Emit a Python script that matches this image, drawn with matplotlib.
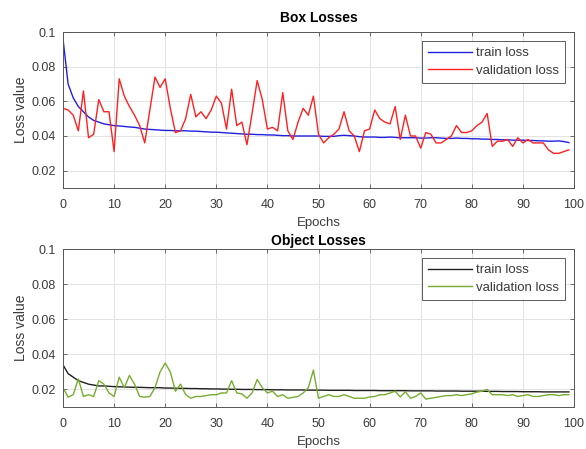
import numpy as np
import matplotlib
matplotlib.use("Agg")
import matplotlib.pyplot as plt

plt.rcParams['font.family'] = ['Liberation Sans', 'DejaVu Sans']

epochs = list(range(100))

box_train = [0.096, 0.070, 0.062, 0.057, 0.054, 0.051, 0.049, 0.048, 0.047, 0.0465,
             0.046, 0.0458, 0.0455, 0.0452, 0.045, 0.0445, 0.044, 0.0438, 0.0436, 0.0434,
             0.0432, 0.0432, 0.043, 0.043, 0.043, 0.0428, 0.0428, 0.0426, 0.0424, 0.0422,
             0.0422, 0.042, 0.0418, 0.0416, 0.0414, 0.0412, 0.041, 0.041, 0.0408, 0.0408,
             0.0406, 0.0406, 0.0404, 0.0402, 0.0402, 0.040, 0.040, 0.040, 0.040, 0.040,
             0.040, 0.0398, 0.0398, 0.0398, 0.0402, 0.0404, 0.0402, 0.040, 0.0396, 0.0394,
             0.0394, 0.0394, 0.0392, 0.0392, 0.0394, 0.0392, 0.039, 0.039, 0.039, 0.039,
             0.0388, 0.0388, 0.039, 0.039, 0.0388, 0.0386, 0.0386, 0.0388, 0.0386, 0.0386,
             0.0384, 0.0384, 0.0382, 0.0382, 0.038, 0.038, 0.0378, 0.0378, 0.0376, 0.0376,
             0.0376, 0.0374, 0.0374, 0.0372, 0.0372, 0.037, 0.037, 0.0372, 0.0368, 0.0362]

box_val = [0.056, 0.055, 0.052, 0.043, 0.066, 0.039, 0.041, 0.061, 0.054, 0.054,
           0.031, 0.073, 0.063, 0.057, 0.052, 0.046, 0.036, 0.055, 0.074, 0.068,
           0.073, 0.056, 0.042, 0.043, 0.050, 0.064, 0.051, 0.054, 0.050, 0.055,
           0.063, 0.059, 0.044, 0.067, 0.046, 0.048, 0.035, 0.053, 0.072, 0.061,
           0.044, 0.045, 0.043, 0.065, 0.043, 0.038, 0.048, 0.056, 0.052, 0.063,
           0.041, 0.036, 0.039, 0.041, 0.044, 0.054, 0.043, 0.040, 0.031, 0.043,
           0.044, 0.055, 0.050, 0.048, 0.047, 0.057, 0.038, 0.052, 0.040, 0.040,
           0.033, 0.042, 0.041, 0.036, 0.036, 0.038, 0.040, 0.046, 0.042, 0.042,
           0.043, 0.046, 0.048, 0.053, 0.034, 0.037, 0.037, 0.038, 0.034, 0.039,
           0.036, 0.038, 0.036, 0.036, 0.036, 0.032, 0.030, 0.030, 0.031, 0.032]

obj_train = [0.034, 0.029, 0.027, 0.025, 0.024, 0.023, 0.0225, 0.022, 0.022, 0.0218,
             0.0216, 0.0215, 0.0214, 0.0213, 0.0212, 0.0212, 0.0211, 0.021, 0.021, 0.021,
             0.0208, 0.0208, 0.0207, 0.0206, 0.0206, 0.0205, 0.0205, 0.0204, 0.0204, 0.0203,
             0.0203, 0.0202, 0.0202, 0.0201, 0.0201, 0.0200, 0.0200, 0.0200, 0.0199, 0.0199,
             0.0199, 0.0198, 0.0198, 0.0198, 0.0197, 0.0197, 0.0197, 0.0197, 0.0196, 0.0196,
             0.0196, 0.0196, 0.0195, 0.0195, 0.0195, 0.0195, 0.0195, 0.0194, 0.0194, 0.0194,
             0.0194, 0.0194, 0.0193, 0.0193, 0.0193, 0.0193, 0.0193, 0.0193, 0.0192, 0.0192,
             0.0192, 0.0192, 0.0192, 0.0191, 0.0191, 0.0191, 0.0191, 0.0191, 0.019, 0.019,
             0.019, 0.019, 0.019, 0.0189, 0.0189, 0.0189, 0.0188, 0.0188, 0.0188, 0.0188,
             0.0187, 0.0187, 0.0187, 0.0187, 0.0186, 0.0186, 0.0186, 0.0186, 0.0186, 0.0186]

obj_val = [0.021, 0.0156, 0.017, 0.026, 0.016, 0.017, 0.016, 0.025, 0.023, 0.018,
           0.016, 0.027, 0.021, 0.028, 0.023, 0.016, 0.0156, 0.016, 0.021, 0.030,
           0.035, 0.030, 0.019, 0.023, 0.017, 0.015, 0.016, 0.016, 0.0165, 0.017,
           0.017, 0.018, 0.018, 0.025, 0.018, 0.0175, 0.015, 0.018, 0.0257, 0.021,
           0.018, 0.019, 0.016, 0.017, 0.015, 0.0155, 0.016, 0.018, 0.021, 0.031,
           0.015, 0.016, 0.017, 0.016, 0.016, 0.017, 0.016, 0.015, 0.015, 0.015,
           0.0157, 0.016, 0.017, 0.017, 0.018, 0.019, 0.0157, 0.0187, 0.015, 0.016,
           0.018, 0.0145, 0.015, 0.0155, 0.016, 0.0165, 0.0165, 0.017, 0.0165, 0.017,
           0.0175, 0.0185, 0.019, 0.020, 0.017, 0.017, 0.017, 0.0165, 0.017, 0.016,
           0.0165, 0.017, 0.016, 0.016, 0.0165, 0.017, 0.017, 0.0165, 0.017, 0.017]

yticks = [0.02, 0.04, 0.06, 0.08, 0.1]
yticklabels = ['0.02', '0.04', '0.06', '0.08', '0.1']
xticks = list(range(0, 101, 10))

fig = plt.figure(figsize=(5.86, 4.49), dpi=100)
W, H = 586, 449

def make_ax(top, bottom):
    return fig.add_axes([63 / W, 1 - bottom / H, (574 - 63) / W, (bottom - top) / H])

ax1 = make_ax(32, 188)
ax2 = make_ax(249, 407)

panels = [
    (ax1, 'Box Losses', box_train, box_val, '#2020e0', '#ff2020', 7),
    (ax2, 'Object Losses', obj_train, obj_val, '#202020', '#77ac30', 3),
]

gray = '#3a3a3a'
for ax, title, tr, va, c1, c2, tpad in panels:
    ax.plot(epochs, tr, color=c1, lw=1.0, label='train loss')
    ax.plot(epochs, va, color=c2, lw=1.0, label='validation loss')
    ax.set_xlim(0, 100)
    ax.set_ylim(0.01, 0.1)
    ax.set_xticks(xticks)
    ax.set_yticks(yticks)
    ax.set_yticklabels(yticklabels)
    ax.grid(True, color='#e3e3e3', lw=0.7)
    ax.set_axisbelow(True)
    ax.tick_params(direction='in', length=3, width=0.6, colors='#555555',
                   labelcolor=gray, labelsize=9, top=True, right=True, pad=5)
    ax.tick_params(axis='x', pad=8)
    for s in ax.spines.values():
        s.set_color('#555555')
        s.set_linewidth(0.7)
    ax.set_xlabel('Epochs', fontsize=9.5, color=gray, labelpad=4)
    ax.set_ylabel('Loss value', fontsize=10, color=gray, labelpad=3)
    ax.set_title(title, fontsize=10, fontweight='bold', color='black', pad=tpad)
    leg = ax.legend(loc='upper right', fontsize=9.5, frameon=True, fancybox=False,
                    handlelength=3.3, handletextpad=0.3, borderpad=0.45,
                    labelspacing=0.4, borderaxespad=0.7)
    leg.get_frame().set_edgecolor('#333333')
    leg.get_frame().set_linewidth(0.7)
    for t in leg.get_texts():
        t.set_color(gray)

fig.savefig('out.png', dpi=100)
